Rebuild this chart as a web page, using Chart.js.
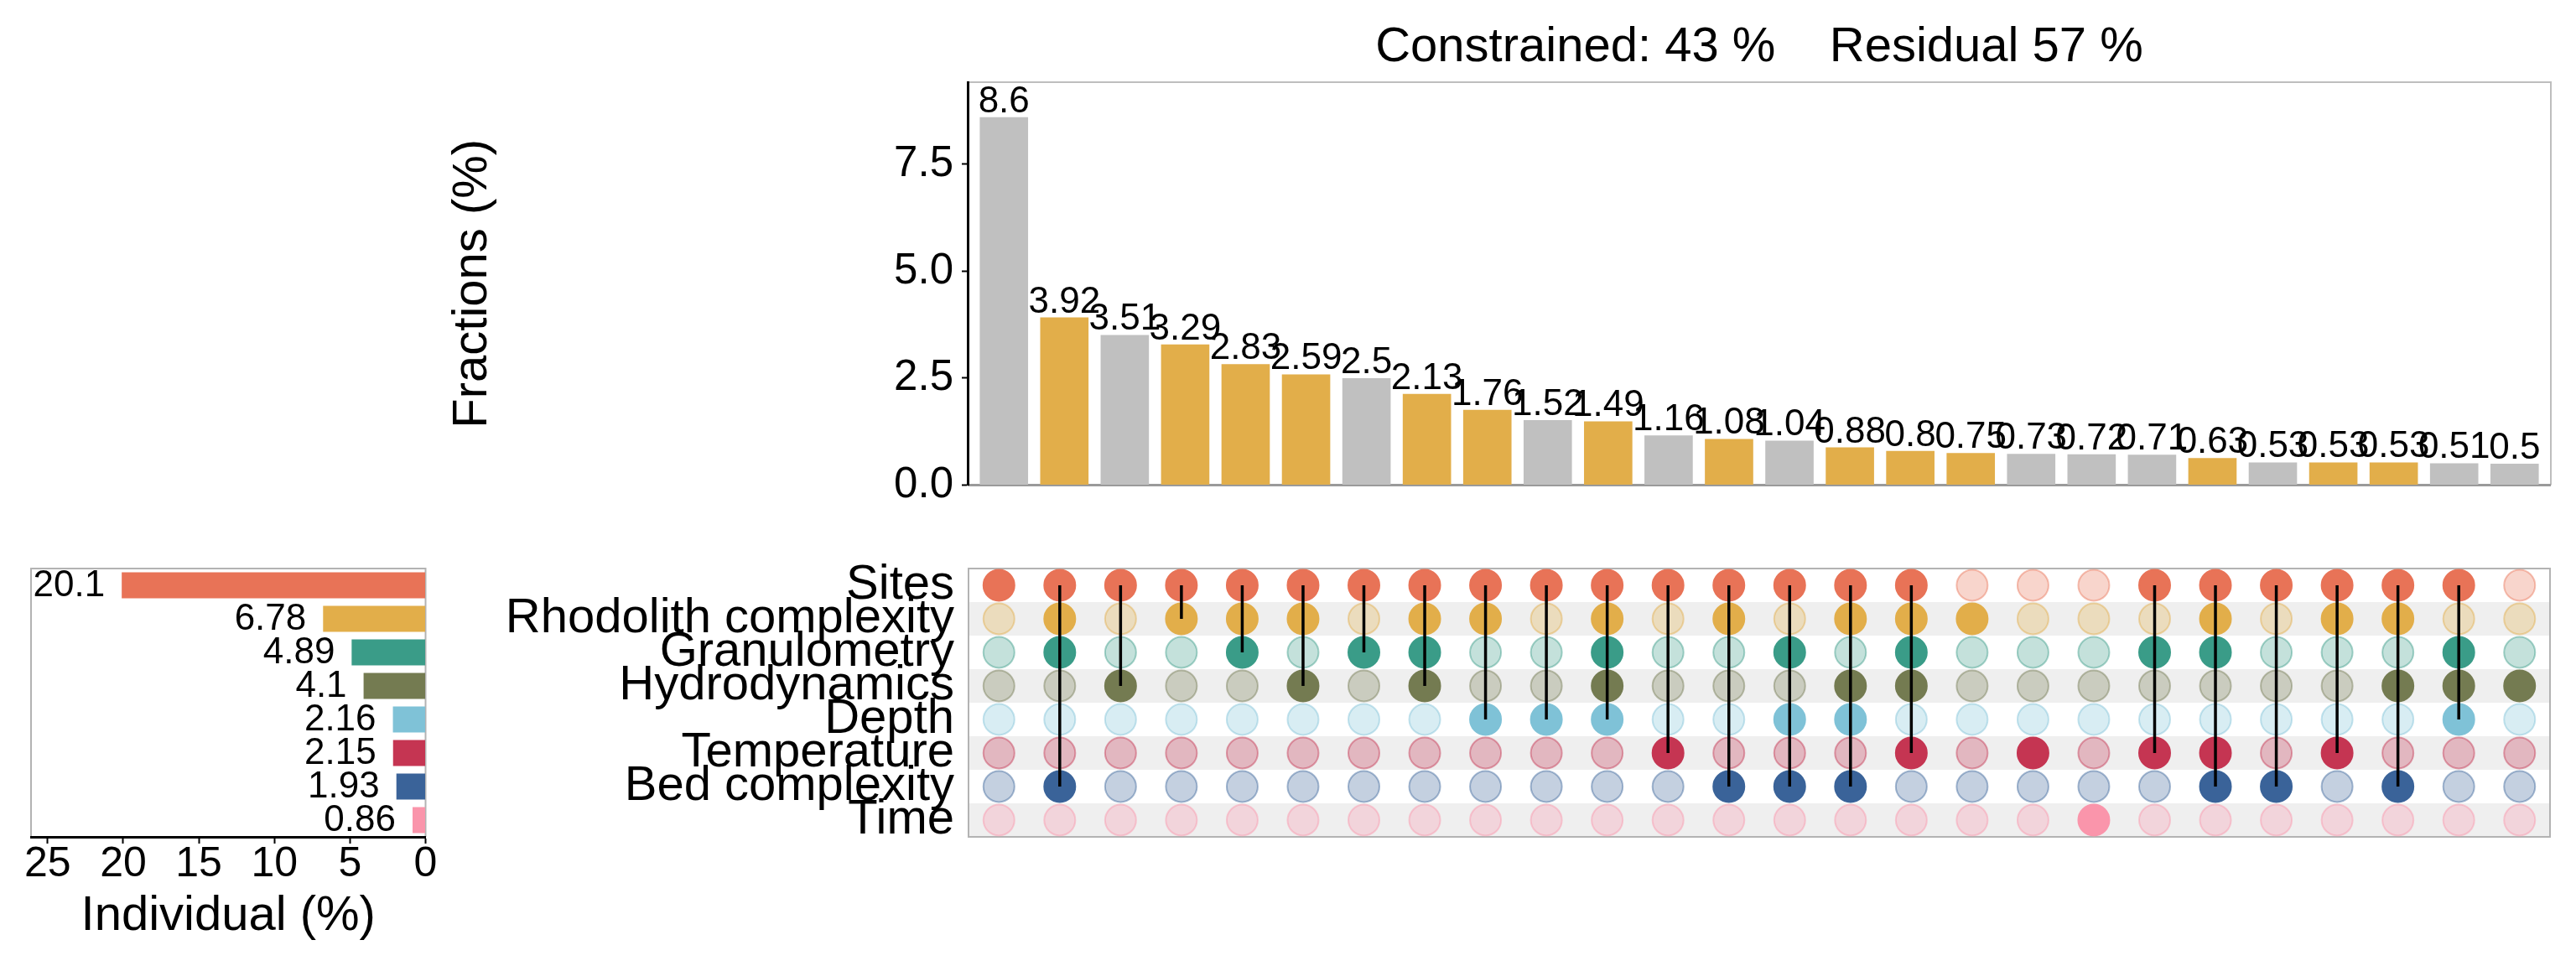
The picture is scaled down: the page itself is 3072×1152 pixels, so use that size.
<!DOCTYPE html>
<html>
<head>
<meta charset="utf-8">
<title>Variance partitioning</title>
<script src="https://cdn.jsdelivr.net/npm/chart.js@4.4.1/dist/chart.umd.min.js"></script>
<style>
	html, body { margin: 0; padding: 0; background: #fff; overflow: hidden; }
	#wrap { position: relative; width: 3072px; height: 1152px; }
	canvas { position: absolute; }
	#fractions { left: 529px; top: 0; }
	#individual { left: 0; top: 640px; }
	#matrix { left: 540px; top: 640px; }
</style>
</head>
<body>
<div id="wrap">
	<canvas id="fractions" width="2543" height="620"></canvas>
	<canvas id="individual" width="560" height="512"></canvas>
	<canvas id="matrix" width="2532" height="400"></canvas>
</div>
<script>
(function () {
	'use strict';

	var setNames = ['Sites', 'Rhodolith complexity', 'Granulometry', 'Hydrodynamics', 'Depth', 'Temperature', 'Bed complexity', 'Time'];
	var setColors = ['#E87357', '#E2AE4A', '#3A9C88', '#747B51', '#7FC2D7', '#C53552', '#3A6399', '#FA95AB'];
	var individualValues = [20.1, 6.78, 4.89, 4.1, 2.16, 2.15, 1.93, 0.86];

	var fractionValues = [8.6, 3.92, 3.51, 3.29, 2.83, 2.59, 2.5, 2.13, 1.76, 1.52, 1.49, 1.16, 1.08,
		1.04, 0.88, 0.8, 0.75, 0.73, 0.72, 0.71, 0.63, 0.53, 0.53, 0.53, 0.51, 0.5];
	// sets sharing each fraction, same order as fractionValues
	var fractionSets = [
		['Sites'],
		['Sites', 'Rhodolith complexity', 'Granulometry', 'Bed complexity'],
		['Sites', 'Hydrodynamics'],
		['Sites', 'Rhodolith complexity'],
		['Sites', 'Rhodolith complexity', 'Granulometry'],
		['Sites', 'Rhodolith complexity', 'Hydrodynamics'],
		['Sites', 'Granulometry'],
		['Sites', 'Rhodolith complexity', 'Granulometry', 'Hydrodynamics'],
		['Sites', 'Rhodolith complexity', 'Depth'],
		['Sites', 'Depth'],
		['Sites', 'Rhodolith complexity', 'Granulometry', 'Hydrodynamics', 'Depth'],
		['Sites', 'Temperature'],
		['Sites', 'Rhodolith complexity', 'Bed complexity'],
		['Sites', 'Granulometry', 'Depth', 'Bed complexity'],
		['Sites', 'Rhodolith complexity', 'Hydrodynamics', 'Depth', 'Bed complexity'],
		['Sites', 'Rhodolith complexity', 'Granulometry', 'Hydrodynamics', 'Temperature'],
		['Rhodolith complexity'],
		['Temperature'],
		['Time'],
		['Sites', 'Granulometry', 'Temperature'],
		['Sites', 'Rhodolith complexity', 'Granulometry', 'Temperature', 'Bed complexity'],
		['Sites', 'Bed complexity'],
		['Sites', 'Rhodolith complexity', 'Temperature'],
		['Sites', 'Rhodolith complexity', 'Hydrodynamics', 'Bed complexity'],
		['Sites', 'Granulometry', 'Hydrodynamics', 'Depth'],
		['Hydrodynamics']
	];
	var highlightSet = 'Rhodolith complexity';
	var fractionTicks = [0, 2.5, 5, 7.5];
	var individualTicks = [0, 5, 10, 15, 20, 25];
	var constrainedPct = 43;
	var residualPct = 57;

	var FONT = '"Liberation Sans", Arial, sans-serif';
	Chart.defaults.font.family = FONT;
	Chart.defaults.color = '#000';

	function fade(hex, a) {
		var n = parseInt(hex.slice(1), 16);
		return 'rgba(' + (n >> 16) + ',' + ((n >> 8) & 255) + ',' + (n & 255) + ',' + a + ')';
	}

	function fixTicks(values) {
		return function (scale) {
			scale.ticks = values.map(function (v) { return { value: v }; });
		};
	}

	//Fractions bar chart
	var fractionFrame = {
		id: 'fractionFrame',
		beforeDraw: function (chart) {
			var a = chart.chartArea, ctx = chart.ctx;
			ctx.save();
			ctx.strokeStyle = '#BEBEBE';
			ctx.lineWidth = 2;
			ctx.beginPath();
			ctx.moveTo(a.left, a.top);
			ctx.lineTo(a.right, a.top);
			ctx.lineTo(a.right, a.bottom);
			ctx.stroke();
			ctx.strokeStyle = '#9A9A9A';
			ctx.lineWidth = 3;
			ctx.beginPath();
			ctx.moveTo(a.left, a.bottom);
			ctx.lineTo(a.right, a.bottom);
			ctx.stroke();
			ctx.restore();
		},
		afterDatasetsDraw: function (chart) {
			var ctx = chart.ctx;
			ctx.save();
			ctx.font = '44px ' + FONT;
			ctx.fillStyle = '#000';
			ctx.textAlign = 'center';
			ctx.textBaseline = 'alphabetic';
			chart.getDatasetMeta(0).data.forEach(function (bar, i) {
				ctx.fillText(String(fractionValues[i]), bar.x, bar.y - 6);
			});
			ctx.restore();
		},
		afterDraw: function (chart) {
			var a = chart.chartArea, ctx = chart.ctx;
			ctx.save();
			ctx.font = '58px ' + FONT;
			ctx.fillStyle = '#000';
			ctx.textAlign = 'center';
			ctx.textBaseline = 'alphabetic';
			ctx.fillText('Constrained: ' + constrainedPct + ' %    Residual ' + residualPct + ' %', (a.left + a.right) / 2, 73);
			ctx.restore();
		}
	};

	new Chart(document.getElementById('fractions'), {
		type: 'bar',
		data: {
			datasets: [{
				data: fractionValues.map(function (v, i) { return { x: i, y: v }; }),
				backgroundColor: fractionSets.map(function (s) {
					return s.indexOf(highlightSet) > -1 ? '#E2AE4A' : '#C0C0C0';
				}),
				barPercentage: 0.8,
				categoryPercentage: 1
			}]
		},
		options: {
			responsive: false,
			animation: false,
			layout: { padding: { left: 0, right: 30, top: 98, bottom: 41.5 } },
			plugins: { legend: { display: false }, tooltip: { enabled: false } },
			scales: {
				x: {
					type: 'linear',
					min: -0.6,
					max: 25.6,
					bounds: 'data',
					offset: false,
					grid: { offset: false },
					afterBuildTicks: fixTicks(fractionValues.map(function (v, i) { return i; })),
					display: false
				},
				y: {
					min: 0,
					max: 9.42,
					afterFit: function (s) { s.width = 625; },
					afterBuildTicks: fixTicks(fractionTicks),
					ticks: {
						font: { size: 51 },
						color: '#000',
						padding: 10,
						callback: function (v) { return Number(v).toFixed(1); }
					},
					grid: { drawOnChartArea: false, tickLength: 7, tickColor: '#000', tickWidth: 2 },
					border: { color: '#000', width: 3 },
					title: { display: true, text: 'Fractions (%)', font: { size: 58 }, color: '#000', padding: 0 }
				}
			}
		},
		plugins: [fractionFrame]
	});

	//Individual bar chart
	var individualFrame = {
		id: 'individualFrame',
		beforeDraw: function (chart) {
			var a = chart.chartArea, ctx = chart.ctx;
			ctx.save();
			ctx.strokeStyle = '#B3B3B3';
			ctx.lineWidth = 2;
			ctx.beginPath();
			ctx.moveTo(a.left, a.bottom);
			ctx.lineTo(a.left, a.top);
			ctx.lineTo(a.right, a.top);
			ctx.lineTo(a.right, a.bottom);
			ctx.stroke();
			ctx.restore();
		},
		afterDatasetsDraw: function (chart) {
			var ctx = chart.ctx;
			ctx.save();
			ctx.font = '44px ' + FONT;
			ctx.fillStyle = '#000';
			ctx.textAlign = 'right';
			ctx.textBaseline = 'middle';
			chart.getDatasetMeta(0).data.forEach(function (bar, i) {
				ctx.fillText(String(individualValues[i]), bar.x - 20, bar.y + 1);
			});
			ctx.restore();
		}
	};

	new Chart(document.getElementById('individual'), {
		type: 'bar',
		data: {
			labels: setNames,
			datasets: [{
				data: individualValues,
				backgroundColor: setColors,
				barPercentage: 0.78,
				categoryPercentage: 1
			}]
		},
		options: {
			indexAxis: 'y',
			responsive: false,
			animation: false,
			layout: { padding: { left: 37, right: 52.5, top: 38, bottom: 24 } },
			plugins: { legend: { display: false }, tooltip: { enabled: false } },
			scales: {
				x: {
					min: 0,
					max: 26.1,
					reverse: true,
					afterFit: function (s) { s.height = 130; },
					afterBuildTicks: fixTicks(individualTicks),
					ticks: {
						font: { size: 50, lineHeight: 1 },
						color: '#000',
						padding: 0,
						maxRotation: 0,
						callback: function (v) { return String(v); }
					},
					grid: { drawOnChartArea: false, tickLength: 8, tickColor: '#000', tickWidth: 2 },
					border: { color: '#000', width: 3 },
					title: { display: true, text: 'Individual (%)', font: { size: 58 }, color: '#000', padding: 0 }
				},
				y: { display: false }
			}
		},
		plugins: [individualFrame]
	});

	//Matrix of sets
	var matrixBands = {
		id: 'matrixBands',
		beforeDatasetsDraw: function (chart) {
			var a = chart.chartArea, ctx = chart.ctx;
			var y = chart.scales.y;
			var h = (a.bottom - a.top) / setNames.length;
			ctx.save();
			ctx.fillStyle = '#EFEFEF';
			setNames.forEach(function (n, r) {
				if (r % 2 === 1) {
					ctx.fillRect(a.left, y.getPixelForValue(r) - h / 2, a.right - a.left, h);
				}
			});
			ctx.strokeStyle = '#B3B3B3';
			ctx.lineWidth = 2;
			ctx.strokeRect(a.left, a.top, a.right - a.left, a.bottom - a.top);
			ctx.restore();
		}
	};

	var dotDatasets = setNames.map(function (name, r) {
		var on = fractionSets.map(function (s) { return s.indexOf(name) > -1; });
		return {
			type: 'scatter',
			order: 1,
			data: fractionSets.map(function (s, c) { return { x: c, y: name }; }),
			pointRadius: 18.5,
			pointHoverRadius: 18.5,
			pointBorderWidth: 2,
			pointBackgroundColor: on.map(function (a) { return a ? setColors[r] : fade(setColors[r], 0.3); }),
			pointBorderColor: on.map(function (a) { return a ? setColors[r] : fade(setColors[r], 0.45); })
		};
	});

	var linkDatasets = [];
	fractionSets.forEach(function (s, c) {
		if (s.length < 2) {
			return;
		}
		var rows = s.map(function (n) { return setNames.indexOf(n); });
		linkDatasets.push({
			type: 'line',
			order: 0,
			data: [
				{ x: c, y: setNames[Math.min.apply(null, rows)] },
				{ x: c, y: setNames[Math.max.apply(null, rows)] }
			],
			borderColor: '#000',
			borderWidth: 3.5,
			pointRadius: 0,
			pointHoverRadius: 0
		});
	});

	new Chart(document.getElementById('matrix'), {
		type: 'scatter',
		data: { datasets: linkDatasets.concat(dotDatasets) },
		options: {
			responsive: false,
			animation: false,
			layout: { padding: { left: 0, right: 31, top: 38, bottom: 42 } },
			plugins: { legend: { display: false }, tooltip: { enabled: false } },
			scales: {
				x: { type: 'linear', min: -0.5, max: 25.5, display: false },
				y: {
					type: 'category',
					labels: setNames,
					offset: true,
					afterFit: function (s) { s.width = 615; },
					// small line height keeps the big labels from shrinking the plot area
					ticks: { font: { size: 58, lineHeight: 0.7 }, color: '#000', padding: 17, autoSkip: false },
					grid: { display: false, drawTicks: false },
					border: { display: false }
				}
			}
		},
		plugins: [matrixBands]
	});
})();
</script>
</body>
</html>
